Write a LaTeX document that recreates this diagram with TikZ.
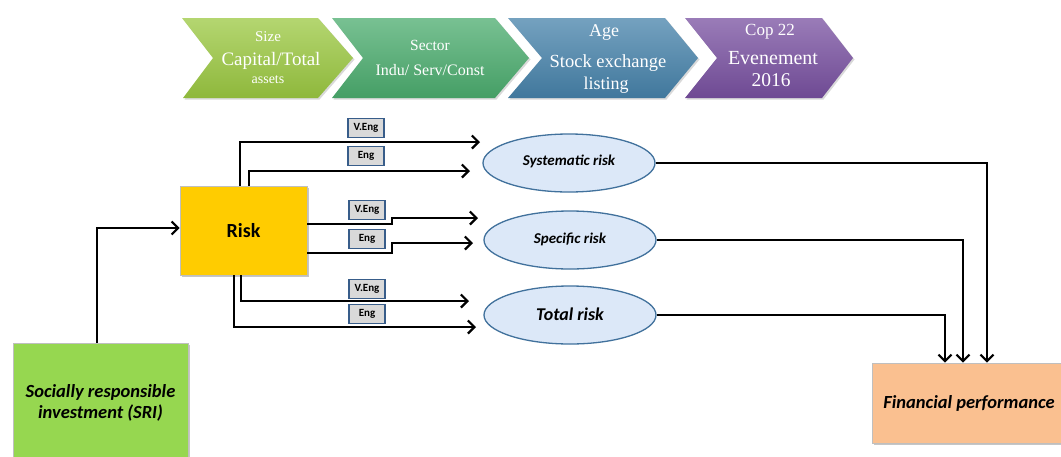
\documentclass[tikz,border=0pt]{standalone}
\usepackage{fontspec}
\setmainfont{Carlito}
\newfontfamily\serifz{Liberation Serif}
\usetikzlibrary{arrows.meta,shapes.geometric,shadows}
\definecolor{chevA}{RGB}{155,200,65}
\definecolor{chevB}{RGB}{75,172,110}
\definecolor{chevC}{RGB}{70,130,170}
\definecolor{chevD}{RGB}{120,80,160}
\definecolor{sriC}{RGB}{150,215,80}
\definecolor{riskC}{RGB}{255,204,0}
\definecolor{finC}{RGB}{250,192,144}
\definecolor{ellF}{RGB}{220,232,248}
\definecolor{ellD}{RGB}{65,113,156}
\definecolor{tagF}{RGB}{217,217,217}
\definecolor{tagD}{RGB}{56,93,138}
\begin{document}
\begin{tikzpicture}[x=1pt,y=-1pt,
  conn/.style={line width=2.2pt,-{Straight Barb[length=6.5pt,width=13pt,line width=2.2pt]}},
  box/.style={draw=black!25,line width=0.6pt,drop shadow={shadow xshift=2pt,shadow yshift=-2pt,opacity=0.45},inner sep=0pt,font=\bfseries\itshape\fontsize{18.5}{21}\selectfont,align=center},
  ell/.style={ellipse,draw=ellD,fill=ellF,line width=1.3pt,minimum width=172pt,minimum height=58pt,inner sep=0pt,font=\bfseries\itshape},
  tag/.style={draw=tagD,fill=tagF,line width=1.3pt,minimum width=36pt,minimum height=19pt,inner sep=0pt,font=\bfseries\fontsize{11}{12}\selectfont},
  chevtxt/.style={text=white,font=\serifz,align=center,inner sep=0pt},
  chev/.style={drop shadow={shadow xshift=1.5pt,shadow yshift=-1.5pt,opacity=0.3}},
  chevshade/.style={top color=#1!75!white,bottom color=#1!92!black}
]
\useasboundingbox (0,0) rectangle (1061,456);
% chevrons
\path[chevshade=chevA,chev] (182,18) -- (318,18) -- (353,58) -- (318,98) -- (183,98) -- (213,58) -- cycle;
\path[chevshade=chevB,chev] (332,18) -- (495,18) -- (529,58) -- (495,98) -- (332,98) -- (363,58) -- cycle;
\path[chevshade=chevC,chev] (508,18) -- (665,18) -- (698,58) -- (665,98) -- (508,98) -- (542,58) -- cycle;
\path[chevshade=chevD,chev] (685,18) -- (822,18) -- (853,58) -- (822,98) -- (685,98) -- (717,58) -- cycle;
\node[chevtxt,font=\serifz\fontsize{15}{16}\selectfont] (c1a) at (268,37) {Size};
\node[chevtxt,font=\serifz\fontsize{19}{20}\selectfont] (c1b) at (271,61) {Capital/Total};
\node[chevtxt,font=\serifz\fontsize{14}{15}\selectfont] (c1c) at (268,80) {assets};
\node[chevtxt,font=\serifz\fontsize{15.5}{16}\selectfont] (c2a) at (430,45) {Sector};
\node[chevtxt,font=\serifz\fontsize{16}{17}\selectfont] (c2b) at (430,70) {Indu/ Serv/Const};
\node[chevtxt,font=\serifz\fontsize{18}{19}\selectfont] (c3a) at (604,32) {Age};
\node[chevtxt,font=\serifz\fontsize{18.5}{19}\selectfont] (c3b) at (608,63) {Stock exchange};
\node[chevtxt,font=\serifz\fontsize{18}{19}\selectfont] (c3c) at (606,85) {listing};
\node[chevtxt,font=\serifz\fontsize{17}{18}\selectfont] (c4a) at (770,32) {Cop 22};
\node[chevtxt,font=\serifz\fontsize{20}{21}\selectfont] (c4b) at (773,58) {Evenement};
\node[chevtxt,font=\serifz\fontsize{19.5}{20}\selectfont] (c4c) at (771,80) {2016};
% main boxes
\node[box,fill=riskC,minimum width=127pt,minimum height=89pt,font=\bfseries\fontsize{20}{22}\selectfont] (risk) at (243.5,230.5) {Risk};
\node[box,fill=sriC,minimum width=175pt,minimum height=120pt] (sri) at (100.5,403) {Socially responsible\\investment (SRI)};
\node[box,fill=finC,minimum width=206pt,minimum height=80pt] (fin) at (975,403) {\hspace*{-12pt}Financial performance};
% ellipses
\node[ell,font=\bfseries\itshape\fontsize{15}{17}\selectfont] (sys) at (569,163) {\raisebox{5pt}{Systematic risk}};
\node[ell,font=\bfseries\itshape\fontsize{15}{17}\selectfont] (spe) at (570,240) {\raisebox{3pt}{Specific risk}};
\node[ell,font=\bfseries\itshape\fontsize{18}{20}\selectfont] (tot) at (570,315) {\raisebox{2pt}{Total risk}};
% tags
\node[tag] (t1) at (366,128) {V.Eng};
\node[tag] (t2) at (366,156) {Eng};
\node[tag] (t3) at (367,210) {V.Eng};
\node[tag] (t4) at (367,239) {Eng};
\node[tag] (t5) at (367,289) {V.Eng};
\node[tag] (t6) at (367,314) {Eng};
% arrow ends
\coordinate (e1) at (480,142);
\coordinate (e2) at (470,171);
\coordinate (e3) at (478,218);
\coordinate (e4) at (473,243);
\coordinate (e5) at (469,301);
\coordinate (e6) at (476,327);
% arrows from risk
\draw[conn] (risk.north -| 240,0) |- (e1);
\draw[conn] (risk.north -| 249,0) |- (e2);
\draw[conn] (risk.east |- 0,224) -- (392,224) -- (392,218) -- (e3);
\draw[conn] (risk.east |- 0,253) -- (392,253) -- (392,243) -- (e4);
\draw[conn] (risk.south -| 241,0) |- (e5);
\draw[conn] (risk.south -| 234,0) |- (e6);
% SRI to risk
\draw[conn] (sri.north -| 97,0) |- (risk.west |- 0,228);
% to financial performance
\draw[conn] (sys.east) -| (fin.north -| 987,0);
\draw[conn] (spe.east) -| (fin.north -| 963,0);
\draw[conn] (tot.east) -| (fin.north -| 945,0);
\end{tikzpicture}
\end{document}
